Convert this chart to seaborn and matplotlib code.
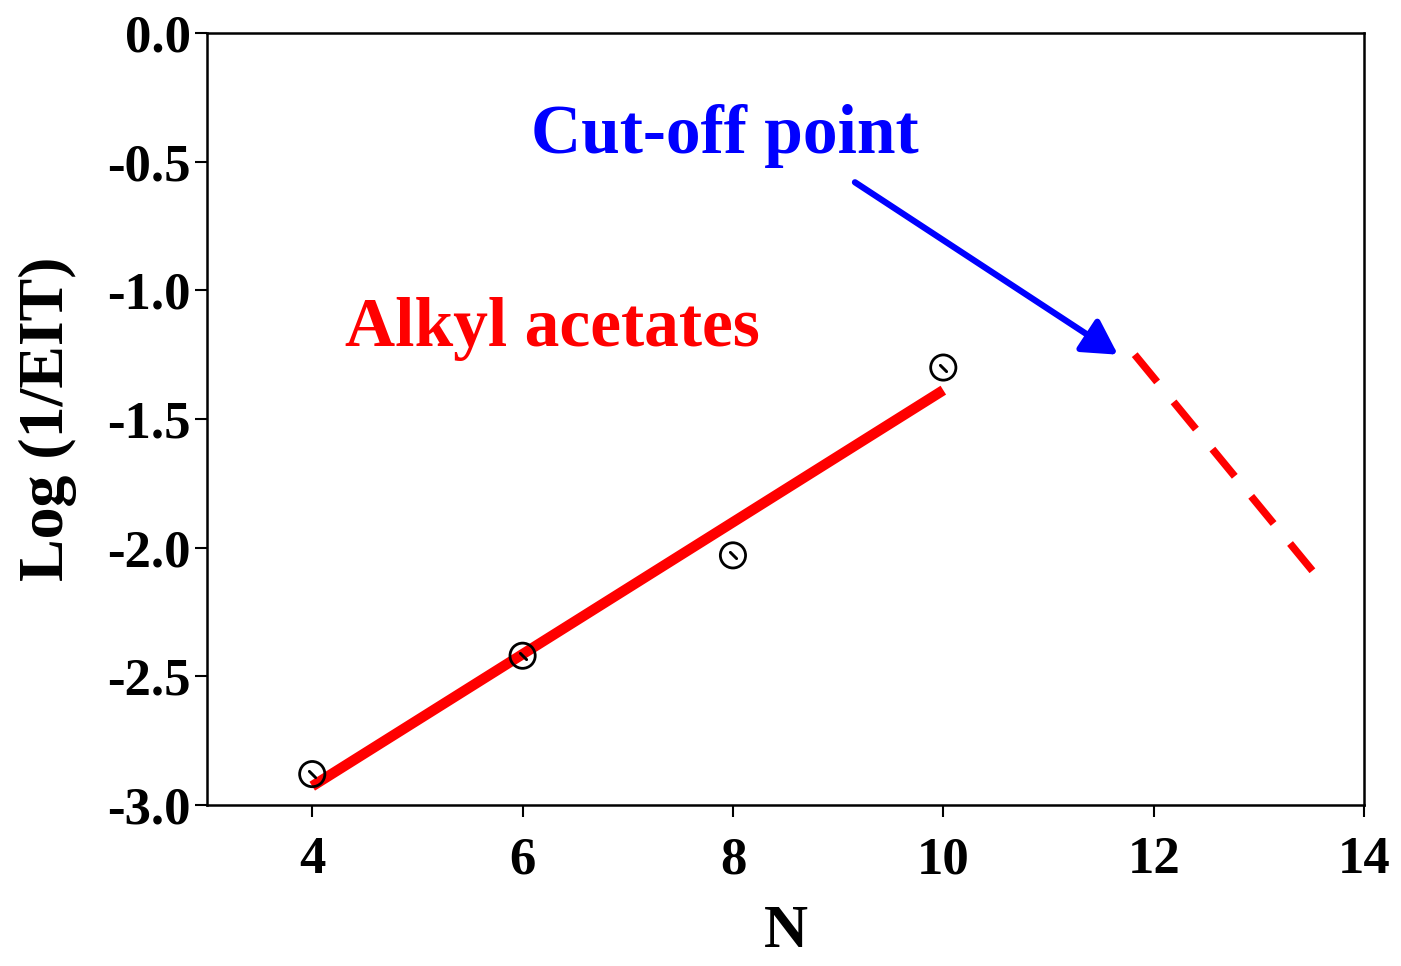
import matplotlib
matplotlib.use("Agg")
import matplotlib.pyplot as plt
import seaborn as sns
import pandas as pd

# Data
n_carbons = [4, 6, 8, 10]
log_inv_eit = [-2.88, -2.42, -2.03, -1.30]
cutoff_n = [11.82, 13.51]
cutoff_log = [-1.25, -2.09]
arrow_start = (9.16, -0.58)
arrow_end = (11.66, -1.25)
x_ticks = [4, 6, 8, 10, 12, 14]
y_ticks = [0.0, -0.5, -1.0, -1.5, -2.0, -2.5, -3.0]

sns.set_theme(style="ticks")
plt.rcParams['font.family'] = ['Liberation Serif', 'DejaVu Serif']
plt.rcParams['font.weight'] = 'bold'
plt.rcParams['text.color'] = 'black'
plt.rcParams['axes.labelcolor'] = 'black'
plt.rcParams['xtick.color'] = 'black'
plt.rcParams['ytick.color'] = 'black'

fig = plt.figure(figsize=(14.01, 9.66), dpi=100)
ax = fig.add_axes([0.1478, 0.1667, 0.9736 - 0.1478, 0.9658 - 0.1667])

df = pd.DataFrame({"N": n_carbons, "y": log_inv_eit})

sns.regplot(data=df, x="N", y="y", scatter=False, ci=None, ax=ax,
            line_kws=dict(color="red", lw=7.5, solid_capstyle="butt"))
sns.scatterplot(data=df, x="N", y="y", ax=ax, marker="o", s=330,
                facecolor="none", edgecolor="black", linewidth=2.0, zorder=5)
sns.scatterplot(data=df, x="N", y="y", ax=ax, marker=(2, 2, 45), s=40,
                color="black", linewidth=1.8, zorder=6)

cdf = pd.DataFrame({"N": cutoff_n, "y": cutoff_log})
sns.lineplot(data=cdf, x="N", y="y", ax=ax, color="red", lw=5.4,
             linestyle=(0, (4.7, 3.45)))
ax.lines[-1].set_dash_capstyle("butt")

ax.annotate("", xy=arrow_end, xytext=arrow_start,
            arrowprops=dict(arrowstyle="-|>,head_length=0.8,head_width=0.45",
                            lw=4.5, color="blue", mutation_scale=26,
                            shrinkA=0, shrinkB=0))

ax.text(7.92, -0.40, "Cut-off point", color="blue", fontsize=50,
        fontweight="bold", ha="center", va="center")
ax.text(6.28, -1.15, "Alkyl acetates", color="red", fontsize=50,
        fontweight="bold", ha="center", va="center")

ax.set_xlim(3, 14)
ax.set_ylim(-3.0, 0.0)
ax.set_xticks(x_ticks)
ax.set_xticklabels([str(t) for t in x_ticks])
ax.set_yticks(y_ticks)
ax.set_yticklabels([f"{t:.1f}" for t in y_ticks])

ax.set_xlabel("N", fontsize=44, fontweight="bold", labelpad=14)
ax.set_ylabel("Log (1/EIT)", fontsize=46, fontweight="bold", labelpad=22)

for s in ax.spines.values():
    s.set_linewidth(1.8)
    s.set_color("black")
ax.tick_params(axis="both", direction="out", length=8.6, width=1.5,
               color="black", labelsize=38)
ax.tick_params(axis="x", pad=14)
ax.tick_params(axis="y", pad=3)
for lab in ax.get_xticklabels() + ax.get_yticklabels():
    lab.set_fontweight("bold")

fig.savefig("out.png", dpi=100)
